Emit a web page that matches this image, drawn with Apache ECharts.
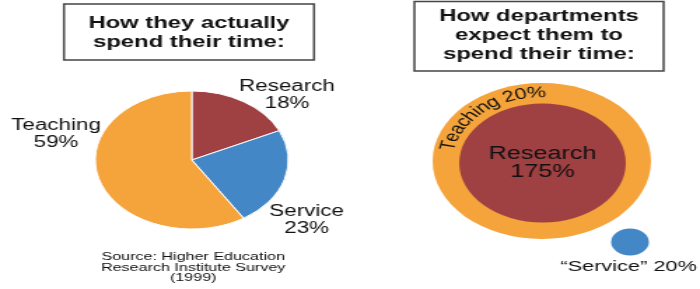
<!DOCTYPE html>
<html>
<head>
<meta charset="utf-8">
<script src="https://cdn.jsdelivr.net/npm/echarts@6/dist/echarts.min.js"></script>
<style>
html,body{margin:0;padding:0;background:#fff;overflow:hidden;}
/* the reference picture is stretched sideways, so draw at 500 wide and widen by 1.4 */
#main{width:500px;height:289px;transform:scaleX(1.4);transform-origin:0 0;}
</style>
</head>
<body>
<div id="main"></div>
<script>
// how they actually spend their time
var actualNames = ['Research', 'Service', 'Teaching'];
var actualValues = [18, 23, 59];
// how departments expect them to
var expectNames = ['Teaching', 'Research', '“Service”'];
var expectValues = [20, 175, 20];

var titles = ['How they actually\nspend their time:', 'How departments\nexpect them to\nspend their time:'];
var sourceText = 'Source: Higher Education\nResearch Institute Survey\n(1999)';

var colors = {orange: '#F5A33B', red: '#9F4043', blue: '#4487C7'};
var FONT = '"Liberation Sans", Arial, sans-serif';

// 饼图标签位置 (chart px, before widening)
var actualLabelPos = [[205, 95], [219, 220], [40, 134]];

var myChart = echarts.init(document.getElementById('main'));

function label(str, x, y, size, lh) {
	return {
		type: 'text', x: x, y: y, z: 10, silent: true,
		style: {text: str, font: size + 'px ' + FONT, fill: '#111', align: 'center', verticalAlign: 'middle', lineHeight: lh}
	};
}

// 弧形文字 Teaching 20%
function arcText(str, cx, cy, r, midDeg, size) {
	var ctx = document.createElement('canvas').getContext('2d');
	ctx.font = size + 'px ' + FONT;
	var total = ctx.measureText(str).width;
	var pos = -total / 2;
	var out = [];
	for(var i = 0; i < str.length; i++) {
		var w = ctx.measureText(str[i]).width;
		var rad = midDeg * Math.PI / 180 + (pos + w / 2) / r;
		out.push({
			type: 'text',
			x: cx + r * Math.sin(rad),
			y: cy - r * Math.cos(rad),
			rotation: -rad,
			z: 10,
			silent: true,
			style: {
				text: str[i],
				font: size + 'px ' + FONT,
				fill: '#111',
				align: 'center',
				verticalAlign: 'middle'
			}
		});
		pos += w;
	}
	return out;
}

var graphics = [
	{type: 'rect', shape: {x: 45.7, y: 4, width: 178.6, height: 56}, style: {fill: '#fff', stroke: '#444', lineWidth: 1.5}},
	{type: 'text', x: 135, y: 33, style: {text: titles[0], font: 'bold 17px ' + FONT, fill: '#111', align: 'center', verticalAlign: 'middle', lineHeight: 19}},
	{type: 'rect', shape: {x: 296, y: 1.5, width: 178, height: 69.5}, style: {fill: '#fff', stroke: '#444', lineWidth: 1.5}},
	{type: 'text', x: 385, y: 35, style: {text: titles[1], font: 'bold 17px ' + FONT, fill: '#111', align: 'center', verticalAlign: 'middle', lineHeight: 19}},
	label(sourceText, 138, 267.5, 11.5, 10.5),
	label(expectNames[2] + ' ' + expectValues[2] + '%', 449, 267, 15.5, 17)
].concat(actualNames.map(function(n, i) {
	return label(n + '\n' + actualValues[i] + '%', actualLabelPos[i][0], actualLabelPos[i][1], 16, 17);
})).concat(arcText(expectNames[0] + ' ' + expectValues[0] + '%', 387, 161, 68, -40, 15.5));

var option = {
	backgroundColor: '#fff',
	animation: false,
	graphic: graphics,
	series: [{
		type: 'pie',
		center: [137, 160],
		radius: [0, 69],
		startAngle: 90,
		clockwise: true,
		silent: true,
		itemStyle: {borderColor: '#fff', borderWidth: 1},
		label: {show: false},
		labelLine: {show: false},
		data: actualNames.map(function(n, i) {
			return {name: n, value: actualValues[i], itemStyle: {color: [colors.red, colors.blue, colors.orange][i]}};
		})
	}, {
		type: 'pie',
		center: [387, 161],
		radius: [0, 78],
		silent: true,
		label: {show: false},
		labelLine: {show: false},
		data: [{name: expectNames[0], value: expectValues[0], itemStyle: {color: colors.orange}}]
	}, {
		type: 'pie',
		center: [387.5, 163],
		radius: [0, 59.5],
		silent: true,
		label: {
			show: true,
			position: 'center',
			formatter: '{b}\n{c}%',
			fontFamily: FONT,
			fontSize: 18,
			lineHeight: 18,
			color: '#111'
		},
		labelLine: {show: false},
		data: [{name: expectNames[1], value: expectValues[1], itemStyle: {color: colors.red}}]
	}, {
		type: 'pie',
		center: [450, 242],
		radius: [0, 13.5],
		silent: true,
		label: {show: false},
		labelLine: {show: false},
		data: [{name: expectNames[2], value: expectValues[2], itemStyle: {color: colors.blue}}]
	}]
};

myChart.setOption(option);
</script>
</body>
</html>
